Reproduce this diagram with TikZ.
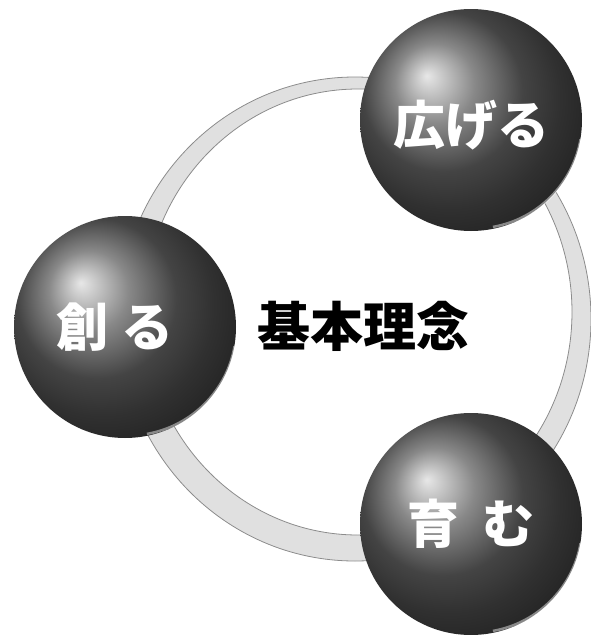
\documentclass[tikz,border=0pt]{standalone}
\usepackage{fontspec}
\newfontfamily\cjk{Noto Sans CJK JP}
\usepackage{pdfrender}
\newcommand{\outl}[1]{\textpdfrender{TextRenderingMode=FillStroke,LineWidth=2.2,StrokeColor=black,FillColor=white}{#1}}
\begin{document}
\begin{tikzpicture}[x=1pt,y=-1pt,
  sphere/.style={circle, minimum size=222pt, inner sep=0pt, ball color=black!62},
  label/.style={font=\cjk\bfseries\fontsize{52}{52}\selectfont, text=white, inner sep=0pt},
  title/.style={font=\cjk\bfseries\fontsize{53}{53}\selectfont, text=black, inner sep=0pt},
  ringfill/.style={fill=black!12},
  ringedge/.style={draw=black!45, line width=0.8pt}]
\useasboundingbox (0,0) rectangle (591,635);
% ring
\fill[ringfill, even odd rule] (355,319) ellipse [x radius=236pt, y radius=242pt]
  (358,312) ellipse [x radius=214pt, y radius=223pt];
\draw[ringedge] (355,319) ellipse [x radius=236pt, y radius=242pt];
\draw[ringedge] (358,312) ellipse [x radius=214pt, y radius=223pt];
% spheres
\node[sphere] (hiro) at (471,120) {};
\node[sphere] (tsuku) at (125,327) {};
\node[sphere] (soda) at (471,524) {};
% rims
\draw[white, opacity=0.45, line width=2.5pt] (hiro.-10) arc[start angle=-10, end angle=-80, radius=108pt];
\draw[white, opacity=0.45, line width=2.5pt] (tsuku.-10) arc[start angle=-10, end angle=-80, radius=108pt];
\draw[white, opacity=0.45, line width=2.5pt] (soda.-10) arc[start angle=-10, end angle=-80, radius=108pt];
% labels
\node[label] (hiroT) at (hiro.center) [yshift=-5pt] {\outl{広げる}};
\node[label] (tsukuT) at (tsuku.center) [xshift=-10pt] {\outl{創}\hspace{14pt}\outl{る}};
\node[label] (sodaT) at (soda.center) {\outl{育}\hspace{24pt}\outl{む}};
% title
\node[title] (kihon) at (363,326) {基本理念};
\end{tikzpicture}
\end{document}
